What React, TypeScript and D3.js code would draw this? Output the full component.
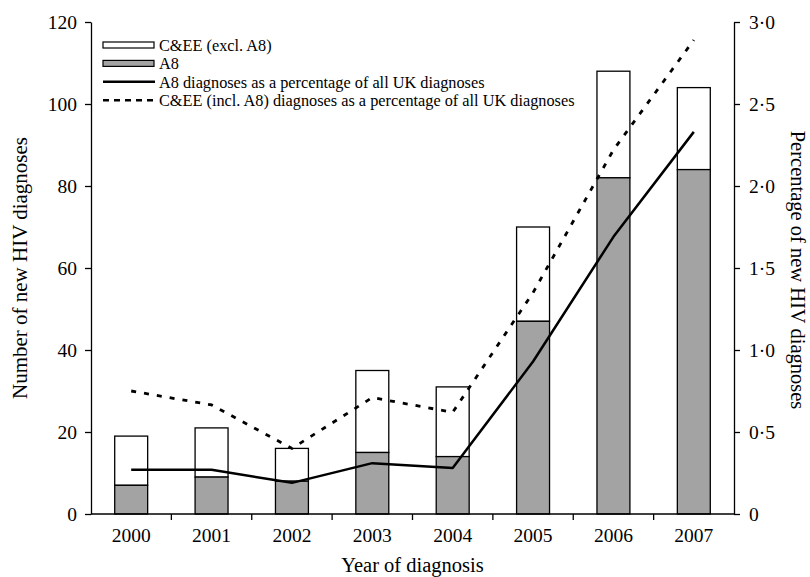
import React, { useRef, useEffect } from 'react';
import * as d3 from 'd3';

const years = ['2000', '2001', '2002', '2003', '2004', '2005', '2006', '2007'];
const a8Counts = [7, 9, 8, 15, 14, 47, 82, 84];
const ceeExclA8 = [12, 12, 8, 20, 17, 23, 26, 20];
const a8Percent = [0.27, 0.27, 0.19, 0.31, 0.28, 0.93, 1.69, 2.33];
const ceePercent = [0.75, 0.665, 0.4, 0.71, 0.62, 1.35, 2.22, 2.89];
const leftTicks = [0, 20, 40, 60, 80, 100, 120];
const rightTicks = [0, 0.5, 1, 1.5, 2, 2.5, 3];

const W = 810;
const H = 577;
const margin = { top: 22, right: 76, bottom: 63, left: 91 };
const font = 'Liberation Serif, Times New Roman, serif';

const App: React.FC = () => {
  const svgRef = useRef<SVGSVGElement>(null);

  useEffect(() => {
    const svg = d3.select(svgRef.current);
    svg.selectAll('*').remove();

    const innerW = W - margin.left - margin.right;
    const innerH = H - margin.top - margin.bottom;
    const g = svg.append('g').attr('transform', `translate(${margin.left},${margin.top})`);

    const x = d3.scaleBand().domain(years).range([0, innerW]).paddingInner(0.59).paddingOuter(0.295);
    const xb = d3.scaleBand().domain(years).range([0, innerW]);
    const y = d3.scaleLinear().domain([0, 120]).range([innerH, 0]);
    const y2 = d3.scaleLinear().domain([0, 3]).range([innerH, 0]);

    // stacked bars
    const data = years.map((yr, i) => ({ yr, a8: a8Counts[i], rest: ceeExclA8[i] }));
    g.selectAll('.bar-rest')
      .data(data)
      .enter()
      .append('rect')
      .attr('x', d => x(d.yr)!)
      .attr('width', x.bandwidth())
      .attr('y', d => y(d.a8 + d.rest))
      .attr('height', d => y(d.a8) - y(d.a8 + d.rest))
      .attr('fill', '#ffffff')
      .attr('stroke', '#000')
      .attr('stroke-width', 1.3);
    g.selectAll('.bar-a8')
      .data(data)
      .enter()
      .append('rect')
      .attr('x', d => x(d.yr)!)
      .attr('width', x.bandwidth())
      .attr('y', d => y(d.a8))
      .attr('height', d => innerH - y(d.a8))
      .attr('fill', '#a3a3a3')
      .attr('stroke', '#000')
      .attr('stroke-width', 1.3);

    // percentage lines
    const cx = (yr: string) => xb(yr)! + xb.bandwidth() / 2;
    const line = d3.line<[string, number]>()
      .x(d => cx(d[0]))
      .y(d => y2(d[1]));
    g.append('path')
      .attr('d', line(years.map((yr, i) => [yr, ceePercent[i]] as [string, number])))
      .attr('fill', 'none')
      .attr('stroke', '#000')
      .attr('stroke-width', 2.8)
      .attr('stroke-dasharray', '5,8');
    g.append('path')
      .attr('d', line(years.map((yr, i) => [yr, a8Percent[i]] as [string, number])))
      .attr('fill', 'none')
      .attr('stroke', '#000')
      .attr('stroke-width', 2.5)
      .attr('stroke-linejoin', 'round');

    // axes
    const styleAxis = (sel: any) => {
      sel.select('.domain').attr('stroke', '#000').attr('stroke-width', 1.3);
      sel.selectAll('.tick line').attr('stroke', '#000').attr('stroke-width', 1.3);
      sel.selectAll('text').attr('fill', '#000').attr('font-family', font).attr('font-size', 19.5);
    };

    const left = g.append('g').call(d3.axisLeft(y).tickValues(leftTicks).tickSize(6).tickSizeOuter(0).tickPadding(8));
    styleAxis(left);

    const right = g.append('g')
      .attr('transform', `translate(${innerW},0)`)
      .call(d3.axisRight(y2).tickValues(rightTicks).tickSize(6).tickSizeOuter(0).tickPadding(9)
        .tickFormat(d => (d as number) === 0 ? '0' : d3.format('.1f')(d as number).replace('.', '·')));
    styleAxis(right);

    const bottom = g.append('g')
      .attr('transform', `translate(0,${innerH})`)
      .call(d3.axisBottom(xb).tickSize(0).tickPadding(14));
    styleAxis(bottom);
    bottom.select('.domain').remove();
    g.append('line')
      .attr('x1', 0).attr('x2', innerW).attr('y1', innerH).attr('y2', innerH)
      .attr('stroke', '#000').attr('stroke-width', 1.3);
    g.selectAll('.xtick')
      .data(d3.range(1, years.length))
      .enter()
      .append('line')
      .attr('x1', i => i * xb.bandwidth())
      .attr('x2', i => i * xb.bandwidth())
      .attr('y1', innerH)
      .attr('y2', innerH + 6)
      .attr('stroke', '#000')
      .attr('stroke-width', 1.3);

    // axis titles
    svg.append('text')
      .attr('x', margin.left + innerW / 2)
      .attr('y', 572)
      .attr('text-anchor', 'middle')
      .attr('font-family', font)
      .attr('font-size', 20.5)
      .text('Year of diagnosis');
    svg.append('text')
      .attr('transform', `translate(27,${margin.top + innerH / 2}) rotate(-90)`)
      .attr('text-anchor', 'middle')
      .attr('font-family', font)
      .attr('font-size', 21)
      .text('Number of new HIV diagnoses');
    svg.append('text')
      .attr('transform', `translate(791,${margin.top + innerH / 2 + 2}) rotate(90)`)
      .attr('text-anchor', 'middle')
      .attr('font-family', font)
      .attr('font-size', 20.5)
      .text('Percentage of new HIV diagnoses');

    // legend
    const legend = svg.append('g').attr('transform', 'translate(103,45)');
    const items = [
      { label: 'C&EE (excl. A8)', kind: 'box', fill: '#ffffff' },
      { label: 'A8', kind: 'box', fill: '#a3a3a3' },
      { label: 'A8 diagnoses as a percentage of all UK diagnoses', kind: 'solid' },
      { label: 'C&EE (incl. A8) diagnoses as a percentage of all UK diagnoses', kind: 'dash' },
    ];
    items.forEach((it, i) => {
      const row = legend.append('g').attr('transform', `translate(0,${i * 18.4})`);
      if (it.kind === 'box') {
        row.append('rect')
          .attr('x', 0).attr('y', -3).attr('width', 51).attr('height', 6)
          .attr('fill', it.fill!).attr('stroke', '#000').attr('stroke-width', 1.2);
      } else {
        row.append('line')
          .attr('x1', 0).attr('x2', 52).attr('y1', 0).attr('y2', 0)
          .attr('stroke', '#000').attr('stroke-width', 2.5)
          .attr('stroke-dasharray', it.kind === 'dash' ? '6,5' : null);
      }
      row.append('text')
        .attr('x', 56).attr('y', 0).attr('dy', '0.35em')
        .attr('font-family', font)
        .attr('font-size', 16.3)
        .text(it.label);
    });
  }, []);

  return (
    <svg
      ref={svgRef}
      width={W}
      height={H}
      fontFamily={font}
      style={{ position: 'absolute', left: 0, top: 0, background: '#fff' }}
    />
  );
};

export default App;
